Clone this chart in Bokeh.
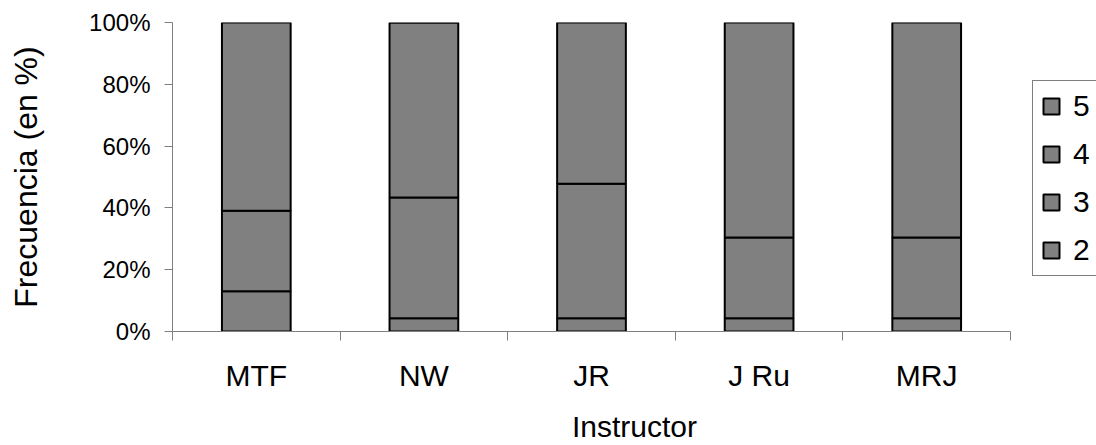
from bokeh.plotting import figure
from bokeh.models import (Legend, LegendItem, FixedTicker, PrintfTickFormatter, Range1d, ColumnDataSource)
from bokeh.embed import file_html
from bokeh.resources import INLINE

categories = ["MTF", "NW", "JR", "J Ru", "MRJ"]
series_names = ["2", "3", "4", "5"]
s2 = [0.0, 0.0, 0.0, 0.0, 0.0]
s3 = [13.0, 4.3, 4.3, 4.3, 4.3]
s4 = [26.1, 39.1, 43.5, 26.1, 26.1]
s5 = [60.9, 56.5, 52.2, 69.6, 69.6]
y_ticks = [0, 20, 40, 60, 80, 100]

FONT = "Liberation Sans"
n = len(categories)
x_pos = [i + 0.5 for i in range(n)]
source = ColumnDataSource(dict(x=x_pos, s2=s2, s3=s3, s4=s4, s5=s5))

W, H = 1096, 445
LEFT, TOP, BOTTOM = 172, 22, 114
AXIS_RIGHT = 1010  # where the category axis ends (pixels)
frame_w = W - LEFT
x_end = n * frame_w / (AXIS_RIGHT - LEFT)

p = figure(width=W, height=H, output_backend="svg", toolbar_location=None,
           x_range=Range1d(0, x_end), y_range=Range1d(0, 100),
           min_border_left=LEFT, min_border_right=0, min_border_top=TOP, min_border_bottom=BOTTOM)
p.outline_line_color = None
p.xgrid.visible = False
p.ygrid.visible = False
p.background_fill_color = "white"
p.border_fill_color = "white"

rs = p.vbar_stack(["s2", "s3", "s4", "s5"], x="x", width=0.41, source=source,
                  fill_color="#808080", line_color="black", line_width=2)

# axes
xa = p.xaxis[0]
xa.bounds = (0, n)
xa.ticker = FixedTicker(ticks=x_pos, minor_ticks=list(range(n + 1)))
xa.major_label_overrides = {x: c for x, c in zip(x_pos, categories)}
xa.major_tick_out = 0
xa.major_tick_in = 0
xa.minor_tick_out = 9
xa.minor_tick_in = 0
xa.axis_line_color = "#808080"
xa.minor_tick_line_color = "#808080"
xa.major_label_text_font = FONT
xa.major_label_text_font_size = "30px"
xa.major_label_text_color = "black"
xa.major_label_standoff = 18
xa.axis_label = "Instructor"
xa.axis_label_text_font = FONT
xa.axis_label_text_font_size = "30px"
xa.axis_label_text_font_style = "normal"
xa.axis_label_text_color = "black"
xa.axis_label_standoff = 15

ya = p.yaxis[0]
ya.ticker = FixedTicker(ticks=y_ticks)
ya.formatter = PrintfTickFormatter(format="%d%%")
ya.major_tick_out = 8
ya.major_tick_in = 0
ya.minor_tick_out = 0
ya.minor_tick_in = 0
ya.axis_line_color = "#808080"
ya.major_tick_line_color = "#808080"
ya.major_label_text_font = FONT
ya.major_label_text_font_size = "24px"
ya.major_label_text_color = "black"
ya.major_label_standoff = 14
ya.axis_label = "Frecuencia (en %)"
ya.axis_label_text_font = FONT
ya.axis_label_text_font_size = "32px"
ya.axis_label_text_font_style = "normal"
ya.axis_label_text_color = "black"
ya.axis_label_standoff = 42

items = [LegendItem(label=s, renderers=[r]) for s, r in zip(series_names, rs)][::-1]
legend = Legend(items=items, location=(860, 55), orientation="vertical",
                glyph_width=20, glyph_height=20, label_height=34, spacing=14,
                padding=8, margin=0, label_standoff=12,
                label_text_font=FONT, label_text_font_size="30px", label_text_color="black",
                border_line_color="black", border_line_width=1,
                background_fill_color="white", background_fill_alpha=1.0)
p.add_layout(legend)

open("out.html", "w").write(file_html(p, INLINE))
